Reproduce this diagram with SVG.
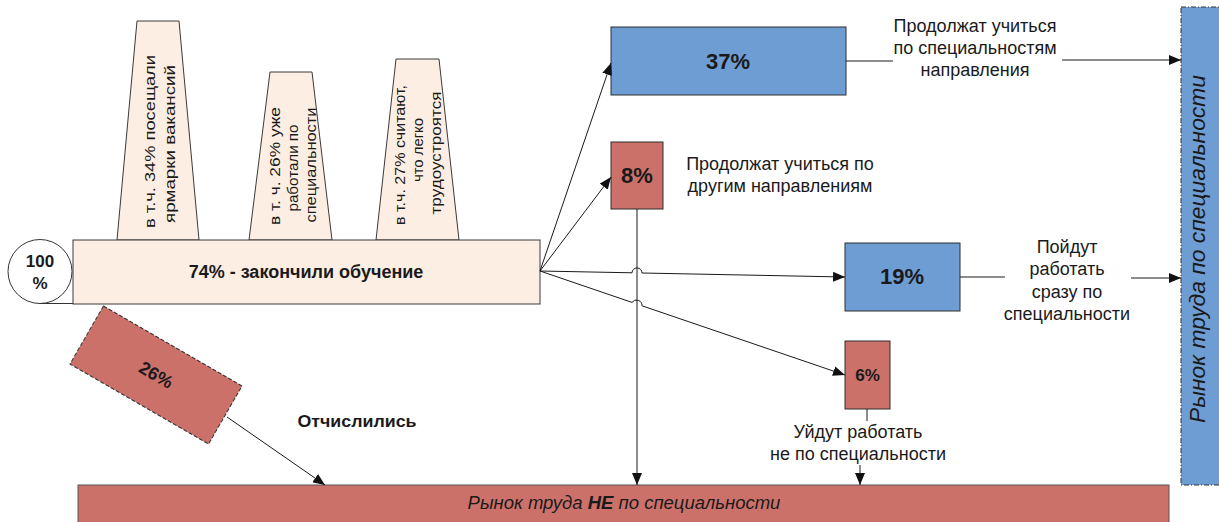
<svg xmlns="http://www.w3.org/2000/svg" width="1219" height="522" viewBox="0 0 1219 522">
<style>
text{font-family:"Liberation Sans",Arial,sans-serif;fill:#1a1a1a}
.cream{fill:#FCEEE3;stroke:#3a3a3a;stroke-width:1}
.blue{fill:#6E9DD3;stroke:#2f2f2f;stroke-width:1}
.red{fill:#CC716A;stroke:#2f2f2f;stroke-width:1}
.lbl{font-size:18px;text-anchor:middle}
.big{font-size:22px;font-weight:bold;text-anchor:middle}
.trap{font-size:14px;text-anchor:middle}
.con{fill:none;stroke:#1a1a1a;stroke-width:1}
</style>
<defs>
<marker id="ah" markerWidth="12" markerHeight="10" refX="12" refY="5" orient="auto" markerUnits="userSpaceOnUse">
<path d="M0,0 L12,5 L0,10 Z" fill="#111"/>
</marker>
</defs>

<g id="market-spec">
<rect x="1181" y="7" width="40" height="478" fill="#6E9DD3" stroke="#333" stroke-width="1" stroke-dasharray="5,2,1,2"/>
<text transform="translate(1200,249) rotate(-90)" x="0" y="5" font-size="22" font-style="italic" text-anchor="middle" textLength="348" lengthAdjust="spacingAndGlyphs">Рынок труда по специальности</text>
</g>

<g id="market-nonspec">
<rect x="78" y="485" width="1091" height="45" fill="#CC716A" stroke="#555" stroke-width="1"/>
<text x="624" y="509" font-size="18.5" font-style="italic" text-anchor="middle">Рынок труда <tspan font-weight="bold">НЕ</tspan> по специальности</text>
</g>

<g id="trap1">
<polygon class="cream" points="117,240 137,21 179,21 199,240"/>
<text class="trap" transform="translate(158,141.5) rotate(-90)"><tspan x="0" y="-3" textLength="173" lengthAdjust="spacingAndGlyphs">в т.ч. 34% посещали</tspan></text>
<text class="trap" transform="translate(158,141.5) rotate(-90)"><tspan x="-2.5" y="17" textLength="158" lengthAdjust="spacingAndGlyphs">ярмарки вакансий</tspan></text>
</g>

<g id="trap2">
<polygon class="cream" points="249,240 270,72 312,72 332,240"/>
<text class="trap" transform="translate(290,166) rotate(-90)"><tspan x="0" y="-10" textLength="118" lengthAdjust="spacingAndGlyphs">в т. ч. 26% уже</tspan></text>
<text class="trap" transform="translate(290,166) rotate(-90)"><tspan x="-2" y="8" textLength="87" lengthAdjust="spacingAndGlyphs">работали по</tspan></text>
<text class="trap" transform="translate(290,166) rotate(-90)"><tspan x="1" y="26" textLength="115" lengthAdjust="spacingAndGlyphs">специальности</tspan></text>
</g>

<g id="trap3">
<polygon class="cream" points="376,240 396,59 439,59 459,240"/>
<text class="trap" transform="translate(417,153) rotate(-90)"><tspan x="-2" y="-12" textLength="140" lengthAdjust="spacingAndGlyphs">в т.ч. 27% считают,</tspan></text>
<text class="trap" transform="translate(417,153) rotate(-90)"><tspan x="3" y="6" textLength="64" lengthAdjust="spacingAndGlyphs">что легко</tspan></text>
<text class="trap" transform="translate(417,153) rotate(-90)"><tspan x="0" y="24" textLength="123" lengthAdjust="spacingAndGlyphs">трудоустроятся</tspan></text>
</g>

<g id="circle100">
<circle cx="40" cy="271.5" r="32" fill="#fff" stroke="#333" stroke-width="1"/>
<line x1="40" y1="303.5" x2="73" y2="303.5" stroke="#333" stroke-width="1"/>
<text x="40" y="267" font-size="17" font-weight="bold" text-anchor="middle">100</text>
<text x="40" y="289" font-size="17" font-weight="bold" text-anchor="middle">%</text>
</g>

<g id="finished">
<rect class="cream" x="73" y="240" width="467" height="64"/>
<text x="306" y="278" font-size="18" font-weight="bold" text-anchor="middle">74% - закончили обучение</text>
</g>

<g id="expelled">
<rect transform="translate(156,375) rotate(30)" x="-80" y="-33.5" width="160" height="67" fill="#CC716A" stroke="#333" stroke-width="1" stroke-dasharray="4,2"/>
<text transform="translate(156,375) rotate(30)" x="0" y="6" font-size="18" font-weight="bold" text-anchor="middle">26%</text>
</g>
<g id="expelled-label">
<text x="357" y="427" font-size="17" font-weight="bold" text-anchor="middle" textLength="119" lengthAdjust="spacingAndGlyphs">Отчислились</text>
</g>

<g id="box37">
<rect class="blue" x="611" y="27" width="235" height="68"/>
<text class="big" x="728" y="69">37%</text>
</g>
<g id="label37">
<text class="lbl" x="975" y="32">Продолжат учиться</text>
<text class="lbl" x="975" y="54">по специальностям</text>
<text class="lbl" x="975" y="76">направления</text>
</g>

<g id="box8">
<rect class="red" x="611" y="142" width="52" height="67"/>
<text class="big" x="637" y="183">8%</text>
</g>
<g id="label8">
<text class="lbl" x="780" y="170">Продолжат учиться по</text>
<text class="lbl" x="780" y="192">другим направлениям</text>
</g>

<g id="box19">
<rect class="blue" x="845" y="243" width="115" height="68"/>
<text class="big" x="902" y="284">19%</text>
</g>
<g id="label19">
<text class="lbl" x="1067" y="253">Пойдут</text>
<text class="lbl" x="1067" y="275">работать</text>
<text class="lbl" x="1067" y="298">сразу по</text>
<text class="lbl" x="1067" y="320">специальности</text>
</g>

<g id="box6">
<rect class="red" x="845" y="341" width="45" height="68"/>
<text x="867.5" y="381" font-size="17" font-weight="bold" text-anchor="middle">6%</text>
</g>
<g id="label6">
<text class="lbl" x="858" y="438">Уйдут работать</text>
<text class="lbl" x="858" y="460">не по специальности</text>
</g>

<g id="connectors">
<path class="con" d="M540,271 L611,63" marker-end="url(#ah)"/>
<path class="con" d="M540,271 L611,177" marker-end="url(#ah)"/>
<path class="con" d="M540,271 L632,272.8 A5,5 0 0 1 642,273 L845,277" marker-end="url(#ah)"/>
<path class="con" d="M540,271 L632,302.4 A5.5,5.5 0 0 1 642,305.8 L845,375" marker-end="url(#ah)"/>
<path class="con" d="M637,209 L637,485" marker-end="url(#ah)"/>
<path class="con" d="M846,61 L893,61"/>
<path class="con" d="M1062,60 L1181,60" marker-end="url(#ah)"/>
<path class="con" d="M960,277 L1005,277"/>
<path class="con" d="M1131,278 L1181,278" marker-end="url(#ah)"/>
<path class="con" d="M867,409 L867,421"/>
<path class="con" d="M860,465 L860,485" marker-end="url(#ah)"/>
<path class="con" d="M227,417 L325,485" marker-end="url(#ah)"/>
</g>
</svg>
